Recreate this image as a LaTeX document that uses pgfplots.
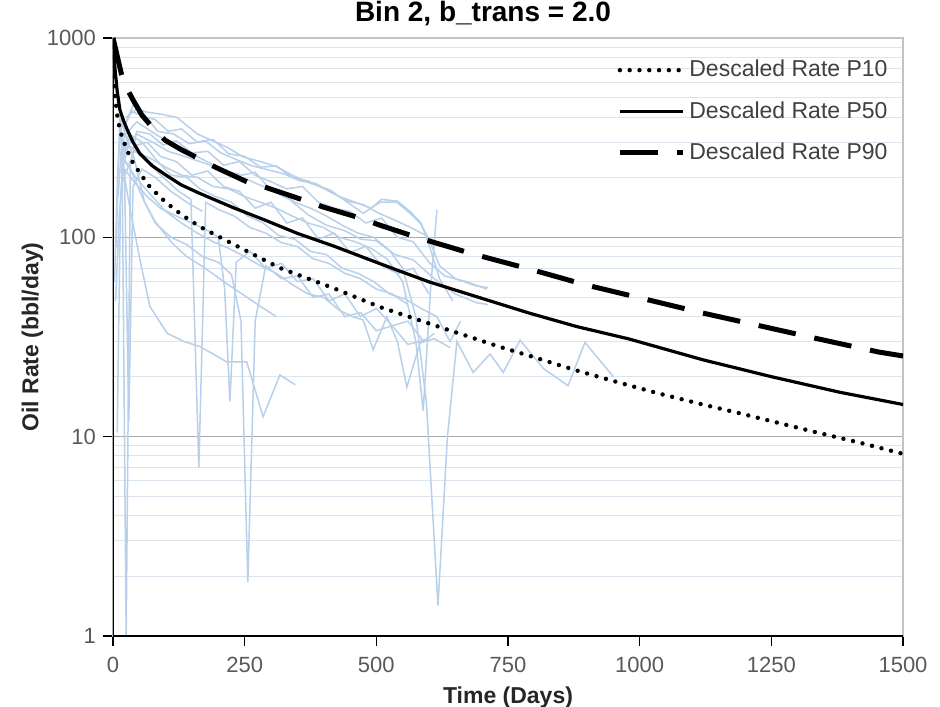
\documentclass[border=0pt]{standalone}
\usepackage{fontspec}
\setmainfont{Liberation Sans}
\usepackage{pgfplots}
\pgfplotsset{compat=1.18}

\definecolor{wellc}{RGB}{184,208,234}
\definecolor{tickc}{RGB}{89,89,89}
\definecolor{labc}{RGB}{38,38,38}
\definecolor{legc}{RGB}{64,64,64}
\definecolor{majg}{RGB}{170,170,170}
\definecolor{ming}{RGB}{220,228,238}
\definecolor{bordc}{RGB}{195,195,195}

\begin{document}
\begin{tikzpicture}
\useasboundingbox (-56.5pt,-35pt) rectangle (413.5pt,318pt);
\begin{axis}[
    scale only axis, width=395pt, height=299pt,
    ymode=log,
    xmin=0, xmax=1500, ymin=1, ymax=1000,
    xtick={0,250,500,750,1000,1250,1500},
    xticklabels={0,250,500,750,1000,1250,1500},
    ytick={1,10,100,1000},
    yticklabels={1,10,100,1000},
    minor ytick={2,3,4,5,6,7,8,9,20,30,40,50,60,70,80,90,200,300,400,500,600,700,800,900},
    tick align=outside,
    xtick pos=left, ytick pos=left,
    major tick length=5pt, minor tick length=0pt,
    tick style={black, line width=0.8pt},
    ticklabel style={font=\fontsize{11}{13}\selectfont, text=tickc},
    xticklabel style={yshift=-2pt},
    /pgf/number format/assume math mode=true,
    axis line style={draw=bordc, line width=0.6pt},
    ymajorgrids, yminorgrids,
    major grid style={majg, line width=0.7pt},
    minor grid style={ming, line width=0.5pt},
    xlabel={Time (Days)}, ylabel={Oil Rate (bbl/day)},
    ylabel shift=-5pt,
    label style={font=\bfseries\fontsize{11.5}{13}\selectfont, text=labc},
    title={Bin 2, b\_trans = 2.0},
    every axis title shift=0pt,
    title style={font=\bfseries\fontsize{14}{16}\selectfont, at={(0.5,1)}, anchor=base, xshift=-12.5pt, yshift=8pt},
    legend style={at={(0.986,0.97)}, anchor=north east, draw=none, fill=none,
        font=\fontsize{11.5}{13}\selectfont, text=legc, row sep=6.7pt,
        inner sep=0pt, nodes={inner sep=2pt}},
    legend cell align=left,
    legend image code/.code={\draw[#1] (0pt,0pt) -- (31.5pt,0pt);},
]

% individual wells (light blue)
\pgfplotsset{well/.style={wellc, line width=0.75pt, forget plot}}
\addplot[well] coordinates {(5,48) (12,130) (20,250) (30,310) (45,290) (65,300) (90,255) (120,240) (150,205) (180,215) (210,180) (240,170) (270,140) (300,150) (330,118) (360,125) (390,98) (420,105) (450,84) (480,90) (510,72) (540,66) (570,70) (600,52)};
\addplot[well] coordinates {(10,160) (17,320) (25,1) (33,230) (45,340) (70,330) (95,290) (120,305) (150,265) (180,270) (210,230) (240,240) (270,205) (300,190) (330,175) (360,180) (390,150) (420,140) (450,135) (480,118) (510,125) (540,100) (570,95) (600,75) (630,64) (670,60) (710,55)};
\addplot[well] coordinates {(8,10.5) (14,140) (22,360) (35,430) (55,405) (80,390) (105,340) (130,350) (160,300) (190,310) (220,262) (250,255) (280,225) (310,228) (340,200) (370,192) (400,176) (430,160) (460,150) (490,140) (510,155) (540,152) (565,134) (585,118) (600,92) (620,62) (645,48)};
\addplot[well] coordinates {(15,210) (30,290) (50,260) (75,225) (100,195) (125,170) (148,155) (163,7) (176,150) (200,138) (230,128) (260,112) (290,105) (320,94) (350,90) (380,78) (410,74) (440,66) (470,62) (500,55) (530,52) (560,46)};
\addplot[well] coordinates {(18,250) (35,215) (55,160) (80,118) (110,100) (140,92) (170,80) (200,75) (225,65) (243,38) (256,1.86) (270,38) (290,72) (320,62) (350,64) (380,50) (410,52) (440,40) (470,42) (500,34) (530,36) (560,29) (600,31)};
\addplot[well] coordinates {(15,260) (30,150) (50,80) (70,45) (103,33) (135,30) (165,28.3) (190,26) (216,23.7) (254,23.7) (285,12.6) (317,20.4) (346,18.2)};
\addplot[well] coordinates {(22,220) (40,190) (65,160) (90,140) (120,128) (150,118) (180,108) (200,100) (212,55) (222,15) (234,75) (260,85) (290,70) (320,74) (350,60) (380,62) (410,48) (440,52) (470,40) (500,44) (530,36) (560,38) (590,30) (610,33)};
\addplot[well] coordinates {(20,270) (45,330) (75,300) (105,270) (135,255) (165,240) (195,225) (225,205) (255,195) (285,180) (315,170) (345,150) (375,140) (405,128) (435,115) (465,105) (495,100) (525,86) (550,70) (575,40) (595,15) (617,1.42) (635,10) (653,30) (684,21) (716,26) (741,21) (773,30.5) (817,22) (864,18) (896,29.7) (950,20)};
\addplot[well] coordinates {(18,190) (40,270) (70,250) (100,225) (130,205) (160,200) (190,180) (220,175) (250,160) (280,150) (310,140) (340,128) (370,118) (400,112) (430,100) (460,95) (490,88) (520,78) (550,60) (575,30) (589,13.5) (603,55) (615,137)};
\addplot[well] coordinates {(25,400) (45,440) (64,425) (90,415) (121,400) (160,330) (198,298) (220,280) (247,253) (280,240) (311,226) (340,205) (374,187) (412,173) (445,150) (475,132) (507,150) (539,150) (564,132) (583,118) (600,98) (620,72) (650,62) (690,57) (712,56)};
\addplot[well] coordinates {(25,330) (45,380) (80,330) (115,290) (150,262) (185,235) (215,215) (245,205) (270,212) (300,172) (335,155) (370,130) (405,115) (440,108) (470,98) (500,96) (535,82) (570,77) (610,62) (650,52) (690,47) (712,46)};
\addplot[well] coordinates {(20,250) (40,205) (70,165) (100,135) (130,118) (160,105) (190,95) (220,88) (250,80) (280,72) (310,66) (340,58) (370,52) (400,50) (430,43) (455,40) (475,38.5) (494,27.3) (520,39.9) (540,30) (558,17.7) (583,29.5) (610,31) (640,28)};
\addplot[well] coordinates {(20,350) (38,460) (60,410) (85,340) (115,330) (145,295) (175,305) (205,265) (235,245) (265,228) (295,218) (325,208) (355,192) (385,186) (415,168) (445,152) (475,146) (505,132) (535,122) (565,112) (595,102) (620,90)};
\addplot[well] coordinates {(15,240) (30,330) (55,300) (85,240) (110,205) (140,200) (165,175) (195,160) (225,150) (255,128) (285,118) (315,102) (345,98) (375,85) (405,82) (435,70) (465,66) (495,60) (525,52) (555,49) (585,44) (615,40) (640,30) (660,38)};
\addplot[well] coordinates {(3,60) (9,220) (16,380) (28,300) (40,250) (60,150) (80,120) (110,95) (140,80) (175,70) (210,60) (245,52) (280,45) (310,40)};
\addplot[well] coordinates {(6,90) (13,420) (22,200) (30,12) (38,180) (55,220) (80,200) (110,170) (140,150) (170,135)};

% descaled type curves
\addplot[black, line width=2.2pt, line cap=round, dash pattern=on 0pt off 4.9pt] coordinates {
    (0,900) (1,750) (2,620) (4,506) (8,410) (13,345) (25,280) (38,236) (55,203)
    (70,179) (100,150) (130,130) (165,113) (228,92.5) (317,70.2) (418,55.7)
    (507,44.7) (620,35.5) (735,28.2) (800,25.0) (877,21.6) (957,18.8) (1035,16.5)
    (1115,14.6) (1185,13.2) (1330,10.6) (1420,9.3) (1500,8.2)
};
\addlegendentry{Descaled Rate P10}

\addplot[black, line width=1.6pt] coordinates {
    (0,1000) (1,880) (4,692) (8,540) (13,437) (20,385) (27,347) (38,300) (51,263)
    (75,228) (102,204) (130,183) (165,166) (228,141) (290,121.6) (350,104.7)
    (420,90.2) (480,78.5) (540,68.4) (600,59.8) (690,50.4) (790,41.7) (880,35.7)
    (980,30.9) (1120,24.3) (1250,20.0) (1380,16.7) (1500,14.5)
};
\addlegendentry{Descaled Rate P50}

\addplot[black, line width=2.5pt, dash pattern=on 19pt off 9.5pt] coordinates {
    (0,1000) (5,880) (10,770) (16,660) (23,581) (38,489) (55,410) (76,353) (99,307)
    (130,275) (161,250) (194,225) (256,189) (293,177) (361,154) (399,142) (469,125)
    (507,115) (577,100) (684,82.4) (791,69.3) (898,57.7) (1010,49) (1120,41.7)
    (1230,35.9) (1340,30.9) (1453,26.6) (1500,25.4)
};
\addlegendentry{Descaled Rate P90}

% black left and bottom axis lines
\draw[black, line width=1pt] (rel axis cs:0,1) -- (rel axis cs:0,0) -- (rel axis cs:1,0);
\end{axis}
\end{tikzpicture}
\end{document}
